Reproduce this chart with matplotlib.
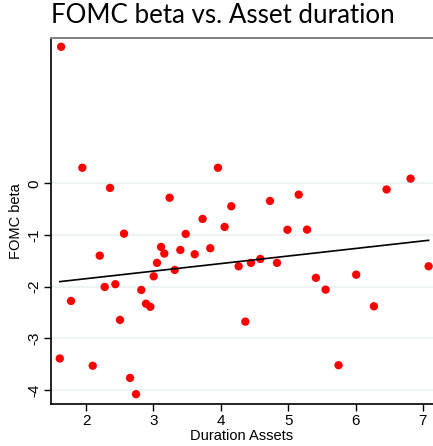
import matplotlib.pyplot as plt
import numpy as np

# Duration of assets (x) and FOMC beta (y)
duration = [1.63, 1.945, 2.356, 3.24, 3.73, 2.564, 2.203, 3.113, 3.162, 3.40,
            3.053, 3.316, 3.004, 3.479, 3.613, 3.844, 1.777, 2.277, 2.435, 2.82,
            2.89, 2.954, 2.504, 1.61, 2.099, 2.653, 2.742, 3.958, 6.461, 6.817,
            5.156, 4.73, 4.156, 4.057, 4.99, 5.28, 4.265, 4.448, 4.587, 4.834,
            5.412, 5.556, 6.01, 6.273, 7.085, 4.364, 5.748]
fomc_beta = [2.64, 0.30, -0.09, -0.28, -0.69, -0.975, -1.40, -1.232, -1.36, -1.29,
             -1.54, -1.677, -1.80, -0.98, -1.373, -1.257, -2.277, -2.006, -1.953, -2.064,
             -2.33, -2.39, -2.644, -3.39, -3.53, -3.766, -4.08, 0.30, -0.12, 0.09,
             -0.22, -0.342, -0.445, -0.845, -0.90, -0.897, -1.606, -1.54, -1.464, -1.54,
             -1.83, -2.058, -1.768, -2.38, -1.606, -2.677, -3.52]
x_ticks = [2, 3, 4, 5, 6, 7]
y_ticks = [-4, -3, -2, -1, 0]

# fitted line as shown in the chart (slope, intercept)
fit_slope = 0.146
fit_intercept = -2.138

x = np.array(duration)
y = np.array(fomc_beta)

fig = plt.figure(figsize=(4.33, 4.46), dpi=100)
ax = fig.add_axes([0.1178, 0.0942, 0.8822, 0.8206])

# light horizontal grid
for t in y_ticks:
    ax.axhline(t, color="#eaf2f3", lw=1.2, zorder=0)

ax.scatter(x, y, s=36, color="#ff0000", edgecolors="none", zorder=3)

# linear fit over the data range
xs = np.array([x.min(), x.max()])
ax.plot(xs, fit_intercept + fit_slope * xs, color="black", lw=1.2, zorder=4)

ax.set_xlim(1.48, 7.15)
ax.set_ylim(-4.27, 2.81)
ax.set_xticks(x_ticks)
ax.set_yticks(y_ticks)
ax.set_xticklabels([str(t) for t in x_ticks], fontfamily="Liberation Sans", fontsize=11)
ax.set_yticklabels([str(t) for t in y_ticks], fontfamily="Liberation Sans", fontsize=11,
                   rotation=90, va="center")
ax.tick_params(length=5, width=1, color="black", pad=2)

ax.spines["right"].set_visible(False)
ax.spines["top"].set_color("#808080")
ax.spines["top"].set_linewidth(1.4)
ax.spines["left"].set_linewidth(1.2)
ax.spines["bottom"].set_linewidth(1.2)

ax.set_xlabel("Duration Assets", fontfamily="Liberation Sans", fontsize=10.5, labelpad=1)
ax.set_ylabel("FOMC beta", fontfamily="Liberation Sans", fontsize=10.5, labelpad=3)

fig.text(0.118, 0.938, "FOMC beta vs. Asset duration", fontfamily="Lato",
         fontsize=18.6, ha="left", va="bottom")

fig.savefig("out.png", dpi=100)
